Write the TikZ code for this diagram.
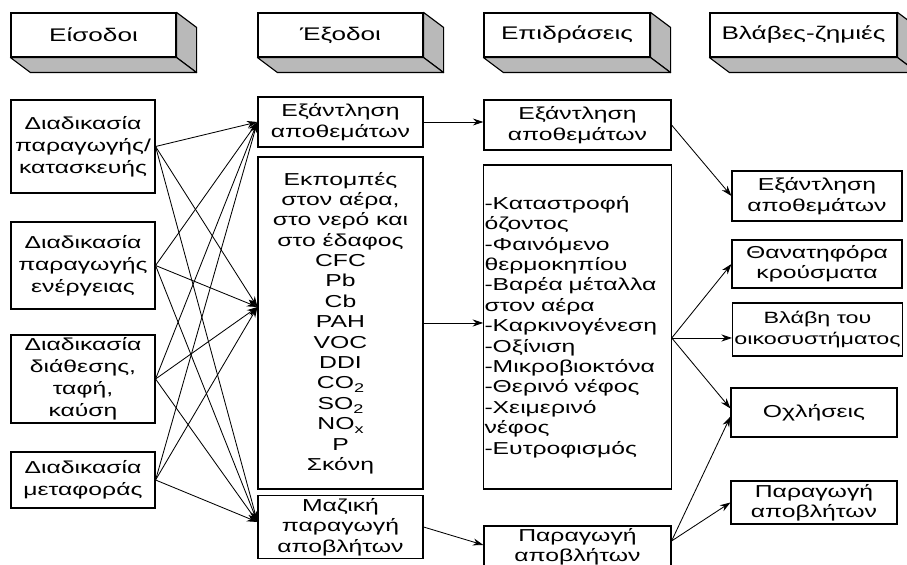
\documentclass[tikz,border=0pt]{standalone}
\usepackage{fontspec}
\setmainfont[FakeStretch=1.43]{Liberation Sans}
\definecolor{facegray}{RGB}{185,185,185}
\usetikzlibrary{arrows.meta,positioning,calc}
\newcommand{\lowsub}[1]{\raisebox{-0.45ex}{\fontsize{9}{9}\selectfont #1}}
\tikzset{
  blk/.style={rectangle,draw=black,line width=0.8pt,fill=white,
              align=center,inner sep=2pt,
              font=\fontsize{12.3}{14.5}\selectfont},
  inbox/.style={blk,minimum width=3.6cm,
                font=\fontsize{12.3}{15.6}\selectfont},
  hdr/.style={blk,minimum height=1.1cm,
              font=\fontsize{13}{15}\selectfont},
  arr/.style={-{Stealth[length=7.5pt,width=5pt]},line width=0.6pt},
}
\begin{document}
\begin{tikzpicture}
  \useasboundingbox (0,0) rectangle (22.675,-14.125);
  % headers
  \node[hdr,minimum width=4.125cm] (hin)  at (2.3375,-0.875)  {Είσοδοι};
  \node[hdr,minimum width=4.125cm] (hout) at (8.5125,-0.875)  {Έξοδοι};
  \node[hdr,minimum width=4.15cm]  (heff) at (14.175,-0.875)  {Επιδράσεις};
  \node[hdr,minimum width=4.675cm] (hdam) at (20.0875,-0.875) {Βλάβες-ζημιές};
  \foreach \h in {hin,hout,heff,hdam}{
    \filldraw[fill=facegray,line width=0.8pt,line join=round]
      (\h.north east) -- ([shift={(0.5,-0.375)}]\h.north east)
      -- ([shift={(0.5,-0.375)}]\h.south east) -- (\h.south east) -- cycle;
    \filldraw[fill=facegray,line width=0.8pt,line join=round]
      (\h.south west) -- ([shift={(0.5,-0.375)}]\h.south west)
      -- ([shift={(0.5,-0.375)}]\h.south east) -- (\h.south east) -- cycle;
  }
  % inputs
  \node[inbox,minimum height=2.325cm] (in1) at (2.075,-3.6625)
    {Διαδικασία\\παραγωγής/\\κατασκευής};
  \node[inbox,minimum height=2.175cm] (in2) at (2.075,-6.6375)
    {Διαδικασία\\παραγωγής\\ενέργειας};
  \node[inbox,minimum height=2.2cm] (in3) at (2.075,-9.475)
    {Διαδικασία\\διάθεσης,\\ταφή,\\καύση};
  \node[inbox,minimum height=1.4cm] (in4) at (2.075,-12.0)
    {Διαδικασία\\μεταφοράς};
  % outputs
  \node[blk,minimum width=4.125cm,minimum height=1.25cm] (out1) at (8.5125,-3.05)
    {Εξάντληση\\αποθεμάτων};
  \node[blk,minimum width=4.125cm,minimum height=8.3cm] (out2) at (8.5125,-8.075)
    {Εκπομπές\\στον αέρα,\\στο νερό και\\στο έδαφος\\CFC\\Pb\\Cb\\PAH\\VOC\\DDI\\
     CO\lowsub{2}\\SO\lowsub{2}\\NO\lowsub{x}\\P\\Σκόνη};
  \node[blk,minimum width=4.125cm,minimum height=1.55cm] (out3) at (8.5125,-13.175)
    {Μαζική\\παραγωγή\\αποβλήτων};
  % effects
  \node[blk,text width=4.675cm,minimum height=1.25cm,inner xsep=0pt] (eff1)
    at (14.4375,-3.125) {Εξάντληση\\αποθεμάτων};
  \node[blk,text width=4.65cm,align=left,inner xsep=0.5pt,minimum height=8.1cm]
    (eff2) at (14.4375,-8.175)
    {-Καταστροφή\\όζοντος\\-Φαινόμενο\\θερμοκηπίου\\-Βαρέα μέταλλα\\στον αέρα\\
     -Καρκινογένεση\\-Οξίνιση\\-Μικροβιοκτόνα\\-Θερινό νέφος\\-Χειμερινό\\νέφος\\
     -Ευτροφισμός};
  \node[blk,text width=4.675cm,minimum height=1.05cm,inner xsep=0pt,inner ysep=1pt]
    (eff3) at (14.4375,-13.675) {Παραγωγή\\αποβλήτων};
  % damages
  \node[blk,minimum width=4.25cm,minimum height=1.25cm] (dam1) at (20.425,-4.9)
    {Εξάντληση\\αποθεμάτων};
  \node[blk,minimum width=4.25cm,minimum height=1.2cm] (dam2) at (20.425,-6.6)
    {Θανατηφόρα\\κρούσματα};
  \node[blk,minimum width=4.25cm,minimum height=1.325cm,inner xsep=0.3pt,
    font=\fontsize{11.6}{14.5}\selectfont,anchor=west] (dam3) at (18.3,-8.2375)
    {Βλάβη του\\οικοσυστήματος};
  \node[blk,minimum width=4.15cm,minimum height=1.225cm] (dam4) at (20.35,-10.3125)
    {Οχλήσεις};
  \node[blk,minimum width=4.15cm,minimum height=1.075cm] (dam5) at (20.35,-12.5625)
    {Παραγωγή\\αποβλήτων};
  % arrows
  \coordinate (out2in) at ([yshift=0.4cm]out2.west);
  \coordinate (out3in) at ([yshift=0.125cm]out3.west);
  \coordinate (eff2out) at ([yshift=-0.275cm]eff2.east);
  \coordinate (eff3out) at ([yshift=0.15cm]eff3.east);
  \foreach \i in {in1,in2,in3,in4}
    \foreach \o in {out1.west,out2in,out3in}
      \draw[arr] (\i.east) -- (\o);
  \draw[arr] (out1.east) -- (out1.east -| eff1.west);
  \draw[arr] (out2.east) -- (out2.east -| eff2.west);
  \draw[arr] (out3.east) -- ([yshift=0.05cm]eff3.west);
  \draw[arr] (eff1.east) -- (dam1.west);
  \draw[arr] (eff2out) -- (dam2.west);
  \draw[arr] (eff2out) -- (eff2out -| dam3.west);
  \draw[arr] (eff2out) -- ([yshift=0.1cm]dam4.west);
  \draw[arr] (eff3out) -- ([yshift=-0.1cm]dam4.west);
  \draw[arr] (eff3out) -- (dam5.west);
\end{tikzpicture}
\end{document}
